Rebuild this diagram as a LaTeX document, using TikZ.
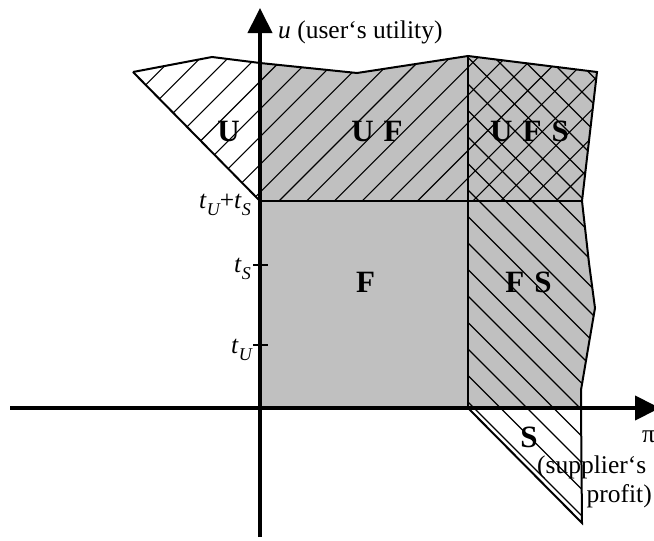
\documentclass[tikz,border=0pt]{standalone}
\usepackage{fontspec}
\setmainfont{Liberation Serif}
\usetikzlibrary{arrows.meta}
\definecolor{regiongray}{RGB}{192,192,192}
\newcommand\myhatchNE{\foreach \i in {-14,...,14}{\draw[hatchline] ({480+27.7*\i},0) -- ({480+27.7*\i-600},600);}}
\newcommand\myhatchNW{\foreach \i in {-8,...,22}{\draw[hatchline] ({66+26.5*\i},0) -- ({66+26.5*\i+600},600);}}
\newcommand\mysub[1]{\raisebox{-0.3em}{\fontsize{18}{18}\selectfont\itshape #1}}
\newcommand\gap{\hspace{10pt}}
\begin{document}
\begin{tikzpicture}[x=1pt,y=-1pt,
  boundary/.style={line width=2pt, line join=miter},
  hatchline/.style={line width=1.1pt},
  axisline/.style={line width=4pt, -{Triangle[length=25pt,width=24pt]}},
  tickline/.style={line width=2.6pt},
  regionlabel/.style={font=\fontsize{31}{33}\selectfont\bfseries, inner sep=0pt},
  textlabel/.style={font=\fontsize{25.5}{27}\selectfont, inner sep=0pt}]
\useasboundingbox (0,0) rectangle (654,541);
% coordinates
\coordinate (a1) at (133,72);
\coordinate (a2) at (212,57);
\coordinate (a3) at (260,63);
\coordinate (a4) at (357,73);
\coordinate (a5) at (468,56);
\coordinate (a6) at (597,72);
\coordinate (b1) at (582,201);
\coordinate (b2) at (589,263);
\coordinate (b3) at (595,308);
\coordinate (b4) at (589,343);
\coordinate (b5) at (581,390);
\coordinate (b6) at (581,408);
\coordinate (b7) at (582,523);
\coordinate (c1) at (260,201);
\coordinate (c2) at (468,201);
\coordinate (c3) at (468,408);
\coordinate (o) at (260,408);
% fills
\fill[regiongray] (a3) -- (a4) -- (a5) -- (a6) -- (b1) -- (b2) -- (b3) -- (b4) -- (b5) -- (b6) -- (o) -- cycle;
% U hatch
\begin{scope}
\clip (a1) -- (a2) -- (a3) -- (c1) -- cycle;
\myhatchNE
\end{scope}
% UF hatch
\begin{scope}
\clip (a3) -- (a4) -- (a5) -- (c2) -- (c1) -- cycle;
\myhatchNE
\end{scope}
% UFS crosshatch
\begin{scope}
\clip (a5) -- (a6) -- (b1) -- (c2) -- cycle;
\myhatchNE
\myhatchNW
\end{scope}
% FS and S hatch
\begin{scope}
\clip (c2) -- (b1) -- (b2) -- (b3) -- (b4) -- (b5) -- (b6) -- (b7) -- (c3) -- cycle;
\myhatchNW
\end{scope}
% boundaries
\draw[boundary] (a1) -- (a2) -- (a3) -- (a4) -- (a5) -- (a6) -- (b1) -- (b2) -- (b3) -- (b4) -- (b5) -- (b6) -- (b7) -- (c3);
\draw[boundary] (a1) -- (c1);
\draw[boundary] (a5) -- (c3);
\draw[boundary] (c1) -- (b1);
% axes
\coordinate (xs) at (10,408);
\coordinate (xe) at (660,408);
\coordinate (ys) at (260,537);
\coordinate (ye) at (260,8);
\draw[axisline] (xs) -- (xe);
\draw[axisline] (ys) -- (ye);
% ticks
\coordinate (ts1) at (253,265);
\coordinate (ts2) at (268,265);
\coordinate (tu1) at (253,345);
\coordinate (tu2) at (268,345);
\draw[tickline] (ts1) -- (ts2);
\draw[tickline] (tu1) -- (tu2);
% labels
\node[regionlabel] (lU) at (228.5,131) {U};
\node[regionlabel] (lUF) at (377,131) {U\gap F};
\node[regionlabel] (lUFS) at (529.5,131) {U\gap F\gap S};
\node[regionlabel] (lF) at (365.5,282) {F};
\node[regionlabel] (lFS) at (528.5,282) {F\gap S};
\node[regionlabel] (lS) at (529,437) {S};
\node[textlabel, anchor=base west] (yl) at (278,38) {\textit{u} (user‘s utility)};
\node[textlabel, anchor=base west] (pi) at (642,442) {π};
\node[textlabel, anchor=base west] (sup) at (537,473) {(supplier‘s};
\node[textlabel, anchor=base east] (prof) at (652,502) {profit)};
\node[textlabel, anchor=base east] (tus) at (251,208) {\textit{t}\mysub{U}+\textit{t}\mysub{S}};
\node[textlabel, anchor=base east] (tS) at (251,272) {\textit{t}\mysub{S}};
\node[textlabel, anchor=base east] (tU) at (252,353) {\textit{t}\mysub{U}};
\end{tikzpicture}
\end{document}
